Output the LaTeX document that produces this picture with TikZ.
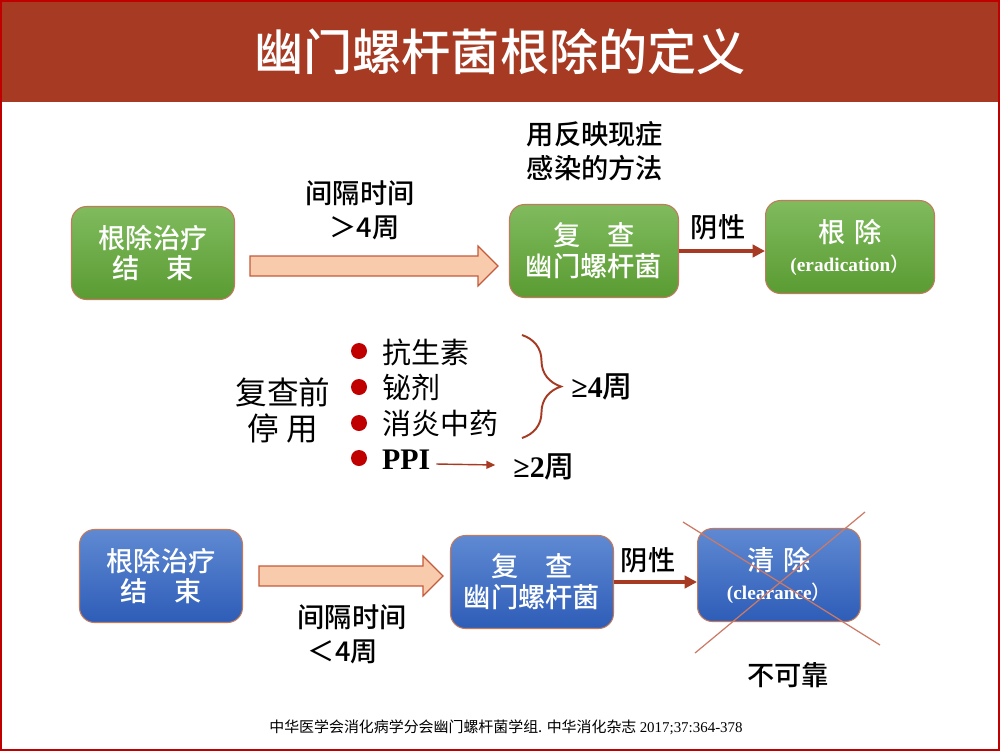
\documentclass[tikz,border=0pt]{standalone}
\usepackage{fontspec}
\setmainfont{Liberation Serif}
\newfontfamily\cjk{Noto Sans CJK SC}
\newfontfamily\cjkmed{Noto Sans CJK SC Medium}
\usetikzlibrary{arrows.meta,positioning,calc,decorations.pathreplacing}
\definecolor{titlered}{HTML}{A63A23}
\definecolor{slidered}{HTML}{C00000}
\definecolor{greentop}{HTML}{80BB5E}
\definecolor{greenbot}{HTML}{5A9B32}
\definecolor{bluetop}{HTML}{5F89D2}
\definecolor{bluebot}{HTML}{2E5DB8}
\definecolor{boxedge}{HTML}{C27A5C}
\definecolor{arrowfill}{HTML}{F8CBAD}
\definecolor{arrowedge}{HTML}{C55A3A}
\definecolor{crossred}{HTML}{CC7A66}

\begin{document}
\begin{tikzpicture}[
    x=0.02cm, y=-0.02cm,
    box/.style={rectangle, draw=boxedge, line width=0.6pt, rounded corners=0.3cm,
                minimum width=3.26cm, minimum height=1.86cm,
                align=center, text=white, font=\cjkmed\fontsize{15.5}{17.5}\selectfont},
    greenbox/.style={box, top color=greentop, bottom color=greenbot},
    bluebox/.style={box, top color=bluetop, bottom color=bluebot},
    label/.style={align=center, font=\cjkmed\fontsize{15.5}{19.5}\selectfont},
    itemtext/.style={anchor=west, inner sep=1pt, font=\cjk\fontsize{16.5}{19}\selectfont},
    dot/.style={circle, fill=slidered, inner sep=0pt, minimum size=0.32cm},
    bigarrow/.style={fill=arrowfill, draw=arrowedge, line width=0.7pt},
    redarrow/.style={-{Triangle[length=7pt, width=7pt]}, titlered, line width=2.2pt},
    thinarrow/.style={-{Triangle[length=5pt, width=4.5pt]}, titlered, line width=0.8pt},
    crossline/.style={crossred, line width=0.7pt},
    >=Stealth
  ]
  \useasboundingbox (0,0) rectangle (1000,751);

  %% Slide frame and title bar
  \fill[titlered] (0,0) rectangle (1000,102);
  \draw[slidered, line width=1.2pt] (1,1) rectangle (999,750);
  \node[text=white, font=\cjkmed\fontsize{28}{32}\selectfont] (title) at (500,52)
        {幽门螺杆菌根除的定义};

  %% Upper row (green)
  \node[greenbox] (g1) at (153,253) {根除治疗\\结\quad 束};
  \node[greenbox, minimum width=3.38cm] (g2) at (594,251) {复\quad 查\\幽门螺杆菌};
  \node[greenbox, minimum width=3.38cm] (g3) at (850,247)
        {根\,\,除\\[-1pt]{\rmfamily\bfseries\fontsize{11}{13}\selectfont (eradication}{\fontsize{11}{13}\selectfont ）}};

  \coordinate (a1s) at (250,266);
  \coordinate (a1e) at (498,266);
  \draw[bigarrow] ($(a1s)+(0,-10)$) -- ($(a1e)+(-20,-10)$) -- ($(a1e)+(-20,-20)$) -- (a1e)
        -- ($(a1e)+(-20,20)$) -- ($(a1e)+(-20,10)$) -- ($(a1s)+(0,10)$) -- cycle;
  \node[label] (gap1) at (360,210) {间隔时间\\\,\,＞4周};
  \node[label] (method) at (595,151) {用反映现症\\感染的方法};

  \draw[redarrow] (g2.east) -- (g2.east -| g3.west);
  \node[label] (neg1) at (718,227) {阴性};

  %% Middle: drugs to stop before the test
  \node[align=center, font=\cjk\fontsize{18}{20.5}\selectfont] (stop) at (283,410) {复查前\\停 用};
  \node[dot] (d1) at (359,351) {};
  \node[dot] (d2) at (359,387) {};
  \node[dot] (d3) at (359,423) {};
  \node[dot] (d4) at (359,458) {};
  \node[itemtext] (i1) at (380,352) {抗生素};
  \node[itemtext] (i2) at (380,387) {铋剂};
  \node[itemtext] (i3) at (380,423) {消炎中药};
  \node[itemtext, font=\rmfamily\bfseries\fontsize{17}{19}\selectfont] (i4) at (380,460) {PPI};

  \draw[titlered, line width=1.1pt, decorate, decoration={brace, amplitude=0.78cm}]
        (522,335) -- (522,438);
  \node[font=\fontsize{17}{19}\selectfont] (w4) at (602,387) {{\rmfamily\bfseries ≥4}{\cjkmed 周}};
  \node[font=\fontsize{17}{19}\selectfont] (w2) at (544,467) {{\rmfamily\bfseries ≥2}{\cjkmed 周}};
  \draw[thinarrow] ($(i4.east)+(4,4)$) -- ($(w2.west)+(-12,-2)$);

  %% Lower row (blue)
  \node[bluebox] (b1) at (161,576) {根除治疗\\结\quad 束};
  \node[bluebox] (b2) at (532,582) {复\quad 查\\幽门螺杆菌};
  \node[bluebox] (b3) at (779,575)
        {清\,\,除\\[-1pt]{\rmfamily\bfseries\fontsize{11}{13}\selectfont (clearance}{\fontsize{11}{13}\selectfont ）}};

  \coordinate (a2s) at (259,576);
  \coordinate (a2e) at (443,576);
  \draw[bigarrow] ($(a2s)+(0,-10)$) -- ($(a2e)+(-20,-10)$) -- ($(a2e)+(-20,-20)$) -- (a2e)
        -- ($(a2e)+(-20,20)$) -- ($(a2e)+(-20,10)$) -- ($(a2s)+(0,10)$) -- cycle;
  \node[label] (gap2) at (352,634) {间隔时间\\＜4周\,\,\,\,};

  \draw[redarrow] (b2.east) -- (b2.east -| b3.west);
  \node[label] (neg2) at (648,560) {阴性};

  %% Cross over the clearance box
  \draw[crossline] ($(b3)+(-96,-53)$) -- ($(b3)+(101,70)$);
  \draw[crossline] ($(b3)+(86,-63)$) -- ($(b3)+(-84,78)$);
  \node[label] (unrel) at (788,675) {不可靠};

  %% Reference
  \node[font=\cjk\fontsize{8.5}{10}\selectfont] (ref) at (506,727)
        {中华医学会消化病学分会幽门螺杆菌学组. 中华消化杂志 {\rmfamily 2017;37:364-378}};

\end{tikzpicture}
\end{document}
